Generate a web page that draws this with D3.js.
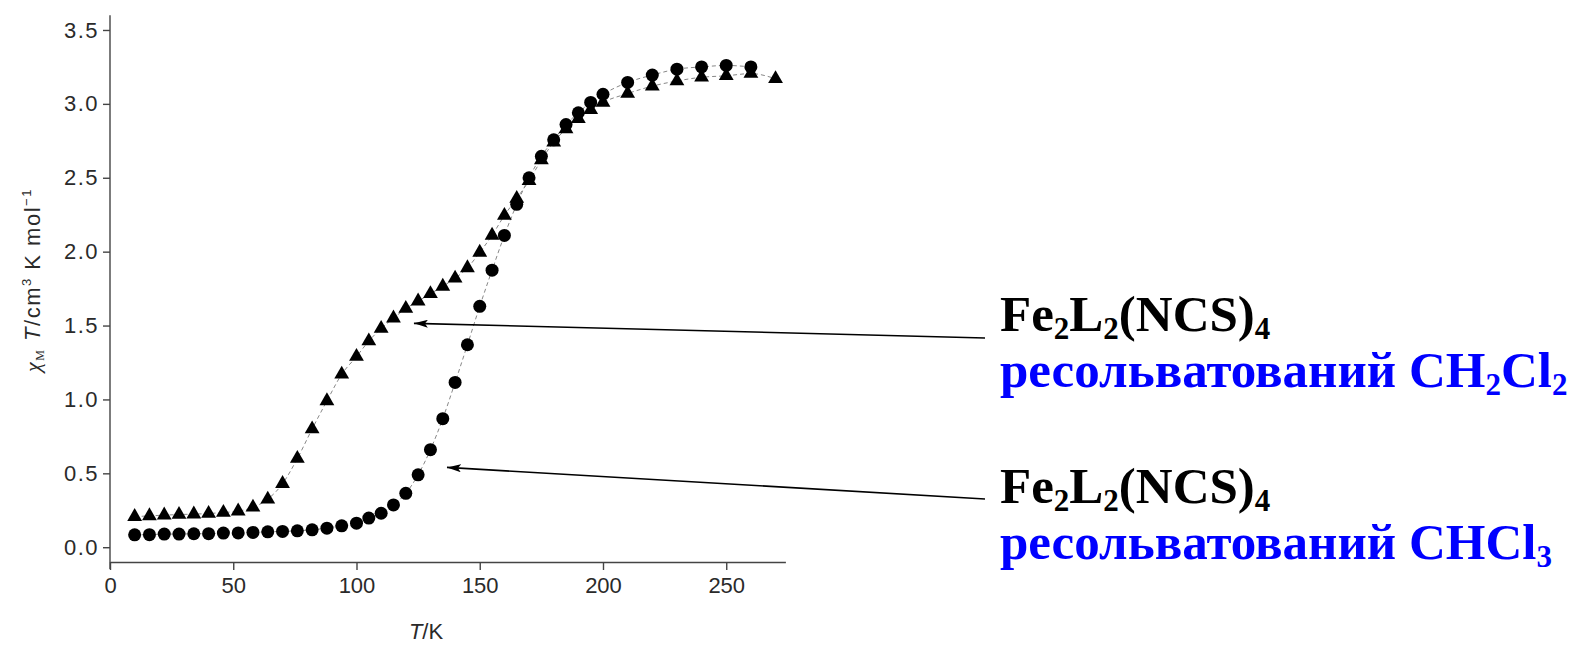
<!DOCTYPE html>
<html>
<head>
<meta charset="utf-8">
<script src="https://d3js.org/d3.v7.min.js"></script>
<style>
  body { margin: 0; background: #fff; }
  svg text { font-family: "Liberation Sans", Arial, sans-serif; }
</style>
</head>
<body>
<div id="chart"></div>
<script>
// temperatures (K) and chi_M*T values
var tempCHCl3 = [10, 16, 22, 28, 34, 40, 46, 52, 58, 64, 70, 76, 82, 88, 94, 100, 105, 110, 115, 120,
                 125, 130, 135, 140, 145, 150, 155, 160, 165, 170, 175, 180, 185, 190, 195, 200,
                 210, 220, 230, 240, 250, 260];
var chiCHCl3 = [0.084, 0.085, 0.089, 0.089, 0.091, 0.092, 0.096, 0.097, 0.100, 0.104, 0.107, 0.111,
                0.118, 0.129, 0.145, 0.163, 0.197, 0.230, 0.286, 0.365, 0.49, 0.66, 0.87, 1.115,
                1.37, 1.63, 1.875, 2.11, 2.32, 2.50, 2.645, 2.757, 2.86, 2.94, 3.01, 3.065,
                3.145, 3.195, 3.235, 3.25, 3.26, 3.25];

var tempCH2Cl2 = [10, 16, 22, 28, 34, 40, 46, 52, 58, 64, 70, 76, 82, 88, 94, 100, 105, 110, 115, 120,
                  125, 130, 135, 140, 145, 150, 155, 160, 165, 170, 175, 180, 185, 190, 195, 200,
                  210, 220, 230, 240, 250, 260, 270];
var chiCH2Cl2 = [0.207, 0.212, 0.217, 0.221, 0.224, 0.228, 0.235, 0.244, 0.27, 0.325, 0.43, 0.60,
                 0.80, 0.99, 1.17, 1.29, 1.395, 1.48, 1.55, 1.615, 1.665, 1.715, 1.765, 1.82,
                 1.89, 1.995, 2.11, 2.245, 2.36, 2.48, 2.62, 2.74, 2.83, 2.90, 2.96, 3.01,
                 3.07, 3.12, 3.155, 3.18, 3.19, 3.205, 3.17];

var xTicks = [0, 50, 100, 150, 200, 250];
var yTicks = [0, 0.5, 1.0, 1.5, 2.0, 2.5, 3.0, 3.5];

var width = 1573, height = 647;

var svg = d3.select("#chart")
    .append("svg")
    .attr("width", width)
    .attr("height", height);

// scales
var x = d3.scaleLinear().domain([0, 274]).range([110, 785.4]);
var y = d3.scaleLinear().domain([-0.1, 3.6]).range([562, 15.2]);

// axes
var axisColor = "#444";
var xAxis = svg.append("g")
    .attr("transform", "translate(0," + y(-0.1) + ")")
    .call(d3.axisBottom(x).tickValues(xTicks).tickSize(8).tickSizeOuter(0).tickPadding(7)
        .tickFormat(d3.format("d")));
var yAxis = svg.append("g")
    .attr("transform", "translate(" + x(0) + ",0)")
    .call(d3.axisLeft(y).tickValues(yTicks).tickSize(7).tickSizeOuter(0).tickPadding(4)
        .tickFormat(d3.format(".1f")));

[xAxis, yAxis].forEach(function(a) {
    a.selectAll("path, line").attr("stroke", axisColor).attr("stroke-width", 1.4);
    a.selectAll("text").attr("fill", "#2a2a2a").style("font-size", "22px");
});
yAxis.selectAll("text").style("letter-spacing", "1.5px");
// y axis line runs a bit below the x axis
yAxis.select(".domain").attr("d", "M0," + y(3.6) + "V" + (y(-0.1) + 7));

// series
function series(temps, vals) {
    return temps.map(function(t, i) { return [t, vals[i]]; });
}
var dataCHCl3 = series(tempCHCl3, chiCHCl3);
var dataCH2Cl2 = series(tempCH2Cl2, chiCH2Cl2);

var line = d3.line()
    .x(function(d) { return x(d[0]); })
    .y(function(d) { return y(d[1]); })
    .curve(d3.curveMonotoneX);

[dataCH2Cl2, dataCHCl3].forEach(function(data) {
    svg.append("path")
        .datum(data)
        .attr("d", line)
        .attr("fill", "none")
        .attr("stroke", "#888")
        .attr("stroke-width", 1)
        .attr("stroke-dasharray", "4,3");
});

svg.append("g").selectAll("path")
    .data(dataCH2Cl2)
    .enter().append("path")
    .attr("d", d3.symbol().type(d3.symbolTriangle).size(95))
    .attr("transform", function(d) { return "translate(" + x(d[0]) + "," + y(d[1]) + ")"; })
    .attr("fill", "#000");

svg.append("g").selectAll("circle")
    .data(dataCHCl3)
    .enter().append("circle")
    .attr("cx", function(d) { return x(d[0]); })
    .attr("cy", function(d) { return y(d[1]); })
    .attr("r", 6.5)
    .attr("fill", "#000");

// axis titles
var xt = svg.append("text")
    .attr("x", 426).attr("y", 639)
    .attr("text-anchor", "middle")
    .attr("fill", "#2a2a2a")
    .style("font-size", "22px");
xt.append("tspan").style("font-style", "italic").text("T");
xt.append("tspan").text("/K");

var yt = svg.append("text")
    .attr("transform", "translate(40,280) rotate(-90)")
    .attr("text-anchor", "middle")
    .attr("fill", "#2a2a2a")
    .style("font-size", "22px")
    .style("letter-spacing", "1.5px");
yt.append("tspan").style("font-style", "italic").style("font-family", "Liberation Serif").text("χ");
yt.append("tspan").attr("dy", 4).style("font-size", "12px").style("font-family", "Liberation Serif").text("M");
yt.append("tspan").attr("dy", -4).style("font-style", "italic").text(" T");
yt.append("tspan").text("/cm");
yt.append("tspan").attr("dy", -9).style("font-size", "13px").text("3");
yt.append("tspan").attr("dy", 9).text(" K mol");
yt.append("tspan").attr("dy", -9).style("font-size", "13px").text("−1");

// annotations
var arrowTips = [[123.3, 1.515], [136.7, 0.54]];

svg.append("defs").append("marker")
    .attr("id", "head")
    .attr("viewBox", "0 0 14 8")
    .attr("refX", 14).attr("refY", 4)
    .attr("markerWidth", 14).attr("markerHeight", 8)
    .attr("markerUnits", "userSpaceOnUse")
    .attr("orient", "auto")
    .append("path").attr("d", "M14,4L0,0L3,4L0,8Z").attr("fill", "#000");

var notes = [
    { from: [985, 338], to: arrowTips[0], base: 331, solvent: ["CH", "2", "Cl", "2"] },
    { from: [985, 499], to: arrowTips[1], base: 503, solvent: ["CHCl", "3"] }
];

// one text per label, two lines as tspans; digits become subscripts
function addLine(txt, parts, first, fill) {
    parts.forEach(function(s, i) {
        var sub = /^\d$/.test(s);
        var ts = txt.append("tspan")
            .attr("fill", fill)
            .style("font-size", sub ? "31px" : null)
            .attr("baseline-shift", sub ? "-8" : null)
            .text(s);
        if (i === 0) ts.attr("x", 1000).attr("dy", first ? 0 : 56);
    });
}

notes.forEach(function(n) {
    svg.append("line")
        .attr("x1", n.from[0]).attr("y1", n.from[1])
        .attr("x2", x(n.to[0])).attr("y2", y(n.to[1]))
        .attr("stroke", "#000").attr("stroke-width", 1.6)
        .attr("marker-end", "url(#head)");

    var t = svg.append("text")
        .attr("x", 1000).attr("y", n.base)
        .style("font-family", "Liberation Serif")
        .style("font-weight", "bold")
        .style("font-size", "51px");
    addLine(t, ["Fe", "2", "L", "2", "(NCS)", "4"], true, "#000");
    addLine(t, ["ресольватований "].concat(n.solvent), false, "#0000ff");
});
</script>
</body>
</html>
